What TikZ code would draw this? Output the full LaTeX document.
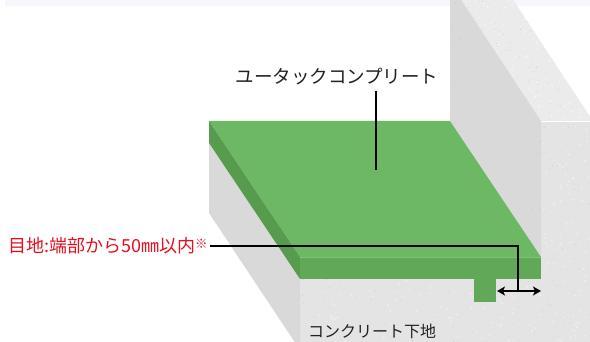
\documentclass[tikz,border=0pt]{standalone}
\usepackage{fontspec}
\setmainfont{Noto Sans CJK JP}
\usetikzlibrary{arrows.meta}
\definecolor{slabtop}{HTML}{6DB865}
\definecolor{slabside}{HTML}{579C4E}
\definecolor{slabfront}{HTML}{62A859}
\definecolor{slabedge}{HTML}{7DC275}
\definecolor{smoothgrey}{HTML}{D9D9D9}
\definecolor{roughgrey}{HTML}{E4E4E4}
\definecolor{roughtop}{HTML}{EBEBEB}
\definecolor{topband}{HTML}{F5F7FA}
\definecolor{notered}{HTML}{E60F1F}
\definecolor{inktext}{HTML}{222222}
\tikzset{
  tag/.style={inner sep=0pt, font=\fontsize{18.5}{18.5}\selectfont, text=inktext},
  redtag/.style={tag, font=\fontsize{18}{18}\selectfont, text=notered},
  basetag/.style={tag, font=\fontsize{16}{16}\selectfont},
  leader/.style={draw=black, line width=1.1pt},
  gap/.style={{Stealth[length=8pt, width=9pt, inset=2pt]}-{Stealth[length=8pt, width=9pt, inset=2pt]}, line width=1.6pt},
  speck/.style={fill=gray!45},
  blot/.style={fill=white, opacity=0.4},
}

\begin{document}
\begin{tikzpicture}[x=1pt, y=-1pt]

  \useasboundingbox (0,0) rectangle (590,342);
  \clip (0,0) rectangle (590,342);
  \pgfmathsetseed{17}

  % Background
  \fill[white] (0,0) rectangle (590,342);
  \fill[topband] (5,0) rectangle (590,6);

  % Wall: top surface
  \begin{scope}
    \clip (450,-17) -- (502,-17) -- (593,121) -- (541,121) -- cycle;
    \fill[roughtop] (440,-20) rectangle (600,125);
    \foreach \k in {1,...,260} \fill[blot] (440+160*rnd, -20+145*rnd) circle (1.1);
    \foreach \k in {1,...,220} \fill[speck] (440+160*rnd, -20+145*rnd) circle (0.4);
  \end{scope}

  % Wall front face and floor front face
  \begin{scope}
    \clip (541,121) -- (593,121) -- (593,350) -- (300,350) -- (300,279) -- (541,279) -- cycle;
    \fill[roughgrey] (295,115) rectangle (600,350);
    \draw[white, line width=0.6pt] (541,121.5) -- (593,121.5);
    \foreach \k in {1,...,450} \fill[blot] (295+305*rnd, 115+235*rnd) circle (1.1);
    \foreach \k in {1,...,420} \fill[speck] (295+305*rnd, 115+235*rnd) circle (0.4);
  \end{scope}

  % Wall inner face
  \begin{scope}
    \clip (450,-17) -- (541,121) -- (541,257) -- (450,121) -- cycle;
    \fill[smoothgrey] (445,-20) rectangle (545,260);
    \foreach \k in {1,...,70} \fill[speck] (445+100*rnd, -20+280*rnd) circle (0.45);
  \end{scope}

  % Floor left face
  \begin{scope}
    \clip (209,143) -- (300,279) -- (300,350) -- (209,213) -- cycle;
    \fill[smoothgrey] (205,140) rectangle (305,350);
    \foreach \k in {1,...,60} \fill[speck] (205+100*rnd, 140+210*rnd) circle (0.45);
  \end{scope}

  % Slab
  \fill[slabtop] (209,121) -- (450,121) -- (541,257) -- (300,257) -- cycle;
  \fill[slabside] (209,121) -- (300,257) -- (300,279) -- (209,143) -- cycle;
  \fill[slabfront] (300,257) rectangle (541,279);
  \draw[slabedge, line width=0.6pt] (300,257.3) -- (541,257.3);
  \fill[slabfront] (474,279) rectangle (496,302);

  % Coordinates
  \coordinate (jointr) at (497,291);
  \coordinate (wallr) at (541,291);
  \coordinate (gapmid) at (518,291);
  \coordinate (slabpt) at (376,170);

  % Nodes
  \node[tag] (prodtag) at (337,77) {ユータックコンプリート};
  \node[redtag, anchor=west] (jointtag) at (8,246) {目地:端部から50㎜以内\smash{\raisebox{4pt}{\fontsize{12.5}{12.5}\selectfont ※}}};
  \node[basetag] (basetag) at (372,331) {コンクリート下地};

  % Arrows
  \draw[leader] (prodtag.south -| slabpt) ++(0,5) -- (slabpt);
  \draw[leader] ([xshift=2pt]jointtag.east) -| (gapmid);
  \draw[gap] (jointr) -- (wallr);

\end{tikzpicture}
\end{document}
